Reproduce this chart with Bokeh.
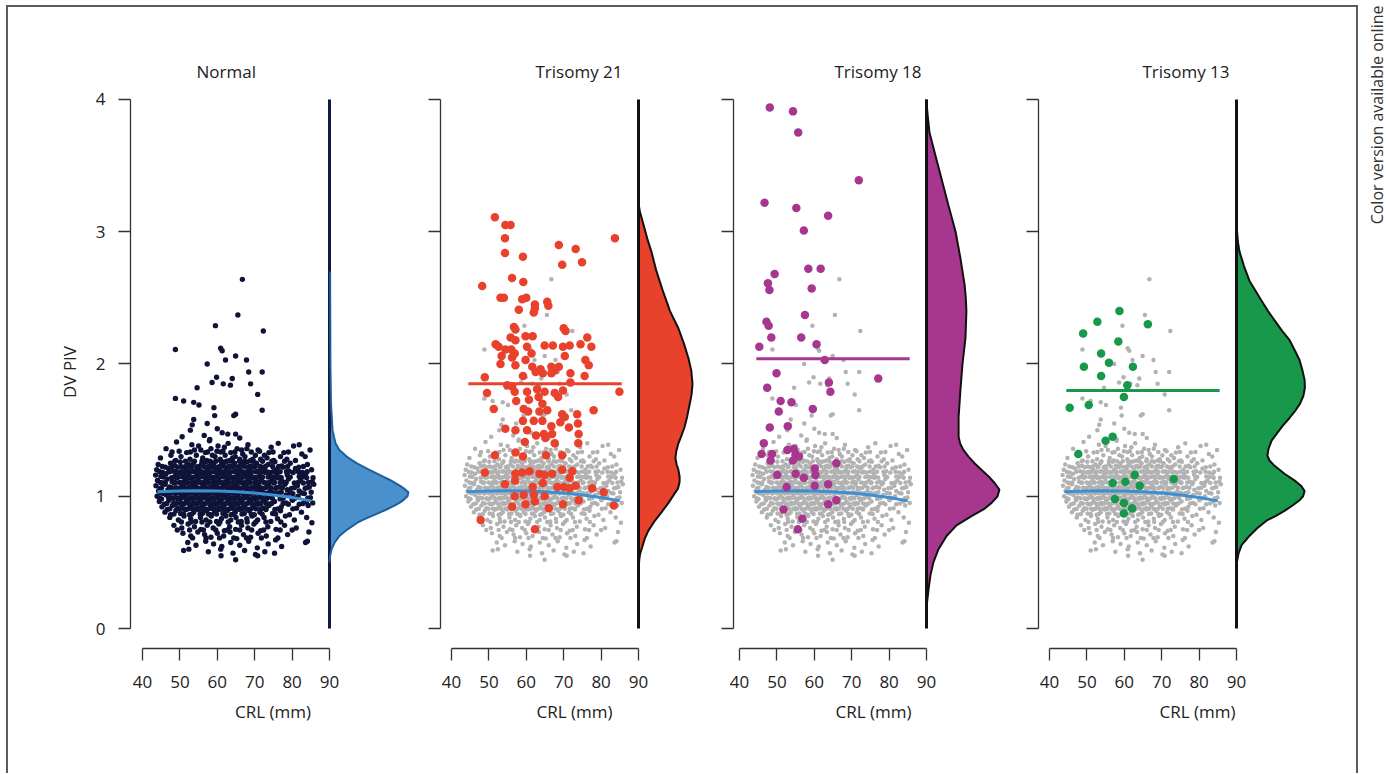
import math
from bokeh.plotting import figure
from bokeh.models import Range1d, FixedTicker, Label, Spacer, Div
from bokeh.layouts import row, column
from bokeh.embed import file_html
from bokeh.resources import INLINE

FONT = "Open Sans"

# ---------------- data ----------------
panel_titles = ["Normal", "Trisomy 21", "Trisomy 18", "Trisomy 13"]
crl_ticks = [40, 50, 60, 70, 80, 90]
dv_ticks = [0, 1, 2, 3, 4]

# normal (euploid) cases: (CRL mm, DV PIV)
normal_top = [
    (66.7, 2.64), (65.5, 2.37), (59.5, 2.29), (72.3, 2.25), (48.8, 2.11), (60.9, 2.12),
    (61.3, 2.10), (62.2, 2.03), (64.9, 2.06), (67.8, 2.03), (57.3, 2.00), (68.4, 1.94),
    (72.0, 1.94), (59.8, 1.90), (58.6, 1.86), (61.6, 1.85), (64.0, 1.89), (63.5, 1.84),
    (68.9, 1.85), (54.6, 1.82), (70.8, 1.77), (48.8, 1.74), (51.0, 1.72), (53.7, 1.71),
    (55.1, 1.69), (72.0, 1.65), (59.1, 1.67), (59.3, 1.61), (64.9, 1.62), (64.4, 1.61),
    (53.7, 1.58), (53.3, 1.54), (57.3, 1.55), (50.6, 1.45), (52.8, 1.50), (60.0, 1.51),
    (61.3, 1.48), (62.8, 1.47), (64.9, 1.47), (56.5, 1.46), (66.0, 1.44), (58.0, 1.43),
]
normal_upper = [
    (46.3, 1.36), (49.1, 1.41), (51.8, 1.33), (53.2, 1.39), (55.6, 1.35), (57.9, 1.42),
    (58.7, 1.31), (60.2, 1.38), (61.5, 1.34), (62.9, 1.40), (64.1, 1.29), (65.3, 1.36),
    (66.8, 1.32), (68.2, 1.39), (69.5, 1.28), (70.9, 1.35), (72.6, 1.31), (74.4, 1.37),
    (76.3, 1.40), (77.8, 1.33), (80.4, 1.38), (81.9, 1.39), (83.5, 1.30), (84.8, 1.35),
    (44.8, 1.29), (47.6, 1.31), (48.9, 1.27), (50.3, 1.30), (52.7, 1.28), (54.4, 1.31),
    (56.1, 1.29), (57.2, 1.27), (59.4, 1.30), (60.8, 1.28), (62.1, 1.31), (63.3, 1.27),
    (64.8, 1.30), (66.0, 1.28), (67.4, 1.30), (68.9, 1.27), (70.2, 1.31), (71.6, 1.28),
    (73.3, 1.29), (75.1, 1.27), (76.9, 1.30), (78.6, 1.28), (80.9, 1.27), (82.6, 1.32),
    (53.9, 1.35), (56.8, 1.33), (59.9, 1.34), (63.6, 1.33), (66.5, 1.35), (71.3, 1.34),
    (49.8, 1.34), (61.9, 1.37), (58.3, 1.36), (67.9, 1.36), (55.0, 1.38), (73.8, 1.33),
]
normal_core = [
    (44.2, 1.24), (46.1, 1.22), (47.5, 1.25), (48.7, 1.23), (50.1, 1.26), (51.0, 1.22),
    (52.3, 1.24), (53.6, 1.25), (54.5, 1.22), (55.8, 1.24), (56.9, 1.26), (57.7, 1.23),
    (58.9, 1.25), (60.1, 1.22), (61.2, 1.24), (62.0, 1.26), (63.4, 1.23), (64.6, 1.25),
    (65.5, 1.22), (66.7, 1.24), (68.0, 1.26), (69.1, 1.23), (70.5, 1.25), (72.0, 1.22),
    (73.6, 1.24), (75.4, 1.26), (77.2, 1.23), (79.5, 1.25), (81.8, 1.22), (84.1, 1.24),
    (43.8, 1.20), (45.4, 1.18), (46.9, 1.21), (48.2, 1.19), (49.4, 1.22), (50.6, 1.18),
    (51.7, 1.20), (52.9, 1.22), (53.8, 1.19), (55.1, 1.21), (56.3, 1.18), (57.3, 1.20),
    (58.4, 1.22), (59.5, 1.19), (60.6, 1.21), (61.7, 1.18), (62.6, 1.20), (63.8, 1.22),
    (65.0, 1.19), (66.1, 1.21), (67.2, 1.18), (68.5, 1.20), (69.7, 1.22), (70.9, 1.19),
    (72.4, 1.21), (73.9, 1.18), (75.8, 1.20), (77.6, 1.22), (79.2, 1.19), (80.9, 1.21),
    (82.7, 1.18), (85.2, 1.20),
    (43.5, 1.16), (44.9, 1.15), (46.3, 1.17), (47.8, 1.14), (48.9, 1.16), (50.0, 1.18),
    (51.2, 1.15), (52.4, 1.17), (53.3, 1.14), (54.6, 1.16), (55.6, 1.18), (56.8, 1.15),
    (57.9, 1.17), (58.8, 1.14), (60.0, 1.16), (61.1, 1.18), (62.3, 1.15), (63.2, 1.17),
    (64.4, 1.14), (65.5, 1.16), (66.6, 1.18), (67.8, 1.15), (68.9, 1.17), (70.2, 1.14),
    (71.4, 1.16), (72.8, 1.18), (74.3, 1.15), (75.9, 1.17), (77.1, 1.14), (78.7, 1.16),
    (80.3, 1.18), (81.9, 1.15), (83.6, 1.17), (85.6, 1.14),
    (44.0, 1.12), (45.3, 1.10), (46.6, 1.13), (47.9, 1.11), (49.2, 1.14), (50.4, 1.10),
    (51.5, 1.12), (52.7, 1.14), (53.7, 1.11), (54.9, 1.13), (56.0, 1.10), (57.1, 1.12),
    (58.2, 1.14), (59.2, 1.11), (60.4, 1.13), (61.5, 1.10), (62.6, 1.12), (63.7, 1.14),
    (64.8, 1.11), (65.9, 1.13), (67.0, 1.10), (68.2, 1.12), (69.4, 1.14), (70.6, 1.11),
    (71.8, 1.13), (73.1, 1.10), (74.6, 1.12), (76.0, 1.14), (77.5, 1.11), (79.0, 1.13),
    (80.6, 1.10), (82.2, 1.12), (83.9, 1.14), (85.4, 1.11), (66.4, 1.14),
    (43.6, 1.08), (44.7, 1.06), (46.0, 1.09), (47.2, 1.07), (48.5, 1.10), (49.6, 1.06),
    (50.8, 1.08), (51.9, 1.10), (53.0, 1.07), (54.1, 1.09), (55.3, 1.06), (56.4, 1.08),
    (57.5, 1.10), (58.6, 1.07), (59.7, 1.09), (60.8, 1.06), (61.9, 1.08), (63.0, 1.10),
    (64.1, 1.07), (65.2, 1.09), (66.3, 1.06), (67.5, 1.08), (68.6, 1.10), (69.8, 1.07),
    (71.0, 1.09), (72.3, 1.06), (73.6, 1.08), (75.1, 1.10), (76.6, 1.07), (78.1, 1.09),
    (79.8, 1.06), (81.4, 1.08), (83.0, 1.10), (84.6, 1.07), (85.8, 1.09), (62.4, 1.07),
    (44.3, 1.04), (45.6, 1.02), (46.8, 1.05), (48.0, 1.03), (49.2, 1.06), (50.3, 1.02),
    (51.4, 1.04), (52.6, 1.06), (53.5, 1.03), (54.7, 1.05), (55.8, 1.02), (56.9, 1.04),
    (58.0, 1.06), (59.1, 1.03), (60.2, 1.05), (61.3, 1.02), (62.5, 1.04), (63.6, 1.06),
    (64.7, 1.03), (65.8, 1.05), (66.9, 1.02), (68.1, 1.04), (69.2, 1.06), (70.4, 1.03),
    (71.6, 1.05), (72.9, 1.02), (74.2, 1.04), (75.6, 1.06), (77.1, 1.03), (78.7, 1.05),
    (80.2, 1.02), (81.9, 1.04), (83.5, 1.06), (85.1, 1.03), (57.4, 1.03), (67.3, 1.06),
    (43.9, 1.00), (45.1, 0.98), (46.4, 1.01), (47.6, 0.99), (48.8, 1.02), (49.9, 0.98),
    (51.1, 1.00), (52.2, 1.02), (53.3, 0.99), (54.4, 1.01), (55.5, 0.98), (56.6, 1.00),
    (57.7, 1.02), (58.8, 0.99), (59.9, 1.01), (61.0, 0.98), (62.1, 1.00), (63.2, 1.02),
    (64.3, 0.99), (65.4, 1.01), (66.5, 0.98), (67.7, 1.00), (68.9, 1.02), (70.1, 0.99),
    (71.3, 1.01), (72.6, 0.98), (74.0, 1.00), (75.4, 1.02), (76.9, 0.99), (78.4, 1.01),
    (80.0, 0.98), (81.6, 1.00), (83.3, 1.02), (84.9, 0.99), (60.6, 1.02),
    (44.5, 0.96), (45.8, 0.94), (47.1, 0.97), (48.4, 0.95), (49.6, 0.98), (50.7, 0.94),
    (51.8, 0.96), (53.0, 0.98), (54.0, 0.95), (55.2, 0.97), (56.3, 0.94), (57.4, 0.96),
    (58.5, 0.98), (59.6, 0.95), (60.7, 0.97), (61.8, 0.94), (62.9, 0.96), (64.0, 0.98),
    (65.1, 0.95), (66.2, 0.97), (67.4, 0.94), (68.6, 0.96), (69.8, 0.98), (71.1, 0.95),
    (72.4, 0.97), (73.8, 0.94), (75.3, 0.96), (76.8, 0.98), (78.4, 0.95), (80.1, 0.97),
    (81.9, 0.94), (83.8, 0.96), (85.5, 0.95),
    (45.2, 0.92), (46.6, 0.90), (48.0, 0.93), (49.3, 0.91), (50.5, 0.94), (51.6, 0.90),
    (52.8, 0.92), (53.9, 0.94), (55.0, 0.91), (56.1, 0.93), (57.2, 0.90), (58.3, 0.92),
    (59.4, 0.94), (60.5, 0.91), (61.6, 0.93), (62.7, 0.90), (63.8, 0.92), (64.9, 0.94),
    (66.0, 0.91), (67.2, 0.93), (68.4, 0.90), (69.6, 0.92), (70.9, 0.94), (72.3, 0.91),
    (73.8, 0.93), (75.4, 0.90), (77.1, 0.92), (79.0, 0.94), (81.2, 0.91), (84.3, 0.93),
    (46.0, 0.88), (47.5, 0.86), (48.9, 0.89), (50.2, 0.87), (51.4, 0.90), (52.6, 0.86),
    (53.7, 0.88), (54.9, 0.90), (56.0, 0.87), (57.1, 0.89), (58.2, 0.86), (59.3, 0.88),
    (60.4, 0.90), (61.5, 0.87), (62.6, 0.89), (63.7, 0.86), (64.8, 0.88), (66.0, 0.90),
    (67.2, 0.87), (68.5, 0.89), (69.9, 0.86), (71.4, 0.88), (73.0, 0.90), (74.8, 0.87),
    (76.9, 0.89), (79.3, 0.86), (82.5, 0.88),
]
normal_lower = [
    (47.3, 0.84), (49.6, 0.82), (51.1, 0.85), (52.9, 0.83), (54.2, 0.81), (55.5, 0.84),
    (57.0, 0.82), (58.4, 0.85), (59.8, 0.81), (61.1, 0.83), (62.3, 0.85), (63.6, 0.82),
    (65.0, 0.84), (66.4, 0.81), (67.9, 0.83), (69.3, 0.85), (70.8, 0.82), (72.5, 0.84),
    (74.3, 0.81), (76.1, 0.83), (78.2, 0.85), (80.6, 0.82), (83.9, 0.84), (85.3, 0.80),
    (48.4, 0.78), (50.5, 0.76), (52.2, 0.79), (53.9, 0.77), (55.6, 0.75), (57.3, 0.78),
    (58.9, 0.76), (60.4, 0.79), (61.9, 0.74), (63.3, 0.77), (64.9, 0.75), (66.5, 0.78),
    (68.2, 0.76), (69.8, 0.79), (71.6, 0.74), (73.5, 0.77), (75.7, 0.75), (78.0, 0.78),
    (81.1, 0.76), (84.5, 0.73),
    (50.8, 0.72), (52.9, 0.70), (54.8, 0.73), (56.6, 0.71), (58.3, 0.69), (60.0, 0.72),
    (61.7, 0.70), (63.4, 0.73), (65.2, 0.68), (67.0, 0.71), (68.9, 0.69), (70.9, 0.72),
    (73.1, 0.70), (75.6, 0.67), (78.8, 0.71), (84.1, 0.66),
    (52.1, 0.65), (54.3, 0.63), (56.9, 0.66), (59.0, 0.64), (61.2, 0.62), (63.6, 0.65),
    (66.0, 0.63), (68.4, 0.66), (70.7, 0.61), (73.6, 0.64), (77.2, 0.62), (83.6, 0.65),
    (51.0, 0.59), (52.4, 0.60), (57.6, 0.58), (60.9, 0.60), (64.2, 0.57), (67.3, 0.59),
    (70.2, 0.56), (72.7, 0.58), (75.3, 0.57), (61.0, 0.55), (64.9, 0.52), (70.8, 0.55),
]
# further normal cases read row by row (DV PIV level -> CRL values)
normal_row_dv = [1.335, 1.265, 1.225, 1.185, 1.145, 1.105, 1.065, 1.025, 0.985,
                 0.945, 0.905, 0.865, 0.805, 0.745, 0.685]
normal_row_crl = [
    [47.9, 52.8, 57.4, 60.9, 64.7, 69.1, 74.9, 79.0],
    [48.6, 51.5, 53.9, 55.9, 58.1, 59.6, 61.0, 62.6, 64.0, 65.9, 67.3, 69.6, 72.1, 74.6, 78.0],
    [45.3, 47.9, 50.2, 51.6, 53.1, 54.9, 56.4, 57.9, 59.2, 60.7, 61.9, 63.0, 64.3, 65.9,
     67.4, 68.6, 70.1, 71.4, 72.9, 74.8, 76.4, 78.8, 83.0],
    [44.6, 47.2, 49.0, 50.4, 51.4, 52.6, 53.6, 54.7, 55.8, 56.9, 57.9, 59.0, 60.1, 61.2,
     62.1, 63.3, 64.5, 65.6, 66.7, 67.9, 69.1, 70.3, 71.7, 73.2, 74.9, 76.8, 78.5, 81.7, 84.0],
    [45.6, 48.4, 49.6, 50.7, 51.8, 52.9, 54.0, 55.1, 56.2, 57.4, 58.4, 59.5, 60.6, 61.7,
     62.8, 63.8, 64.9, 66.0, 67.2, 68.4, 69.6, 70.8, 72.1, 73.6, 75.2, 76.5, 79.5, 82.8],
    [44.8, 46.1, 48.7, 49.9, 51.0, 52.1, 53.2, 54.3, 55.4, 56.5, 57.6, 58.7, 59.8, 60.9,
     62.0, 63.1, 64.2, 65.3, 66.4, 67.6, 68.8, 70.0, 71.2, 72.5, 73.9, 75.3, 76.8, 78.4,
     81.6, 84.4],
    [45.1, 47.8, 49.0, 50.2, 51.3, 52.4, 53.5, 54.6, 55.8, 56.9, 58.0, 59.1, 60.2, 61.3,
     63.5, 64.6, 65.7, 66.8, 68.0, 69.2, 70.4, 71.6, 72.9, 74.3, 75.8, 77.4, 80.6, 84.0],
    [45.0, 47.4, 48.6, 49.8, 50.9, 52.0, 53.1, 54.1, 55.2, 56.3, 57.4, 58.5, 59.6, 60.7,
     61.8, 62.9, 64.1, 65.2, 66.3, 67.5, 68.6, 69.8, 71.0, 72.3, 73.6, 75.0, 76.4, 79.4, 82.7],
    [44.6, 47.0, 48.2, 49.3, 50.4, 51.6, 52.7, 53.8, 54.9, 56.0, 57.1, 58.2, 59.3, 60.4,
     61.5, 62.6, 63.7, 64.8, 65.9, 67.1, 68.3, 69.5, 70.7, 72.0, 73.3, 74.7, 77.6, 80.8, 84.2],
    [46.5, 48.9, 50.1, 51.2, 52.4, 53.5, 54.6, 55.7, 56.8, 57.9, 59.0, 60.1, 61.2, 62.3,
     63.4, 64.5, 65.6, 66.8, 68.0, 69.2, 70.4, 71.7, 73.1, 74.5, 77.6, 82.9],
    [47.3, 49.9, 51.1, 52.2, 53.3, 54.4, 55.5, 56.6, 57.7, 58.8, 59.9, 61.0, 62.1, 63.2,
     64.3, 65.4, 66.6, 67.8, 69.0, 70.3, 71.6, 73.0, 76.2, 80.2],
    [48.4, 51.0, 53.2, 55.4, 57.6, 59.8, 62.0, 64.2, 66.6, 69.1, 72.0, 75.6],
    [50.4, 53.0, 55.9, 58.0, 60.7, 62.9, 65.6, 68.0, 70.3, 73.0, 77.0],
    [49.3, 52.6, 56.3, 59.6, 62.7, 66.0, 69.2, 72.4, 76.8, 80.0],
    [53.4, 57.0, 60.6, 64.4, 67.8, 71.8, 76.2],
]

# reference (normal) fitted curve
normal_fit_crl = [44, 50, 55, 60, 65, 70, 75, 80, 85]
normal_fit_dv = [1.035, 1.04, 1.042, 1.04, 1.035, 1.025, 1.01, 0.99, 0.965]

# trisomy 21
t21_crl = [51.6, 54.4, 55.8, 54.3, 83.7, 68.7, 73.2, 54.3, 59.1, 74.9, 69.6, 56.2,
           59.2, 48.2, 53.1, 54.0, 58.9, 60.0, 62.3, 62.3, 65.6, 65.9, 58.0, 62.0,
           56.7, 57.1, 70.0, 70.5, 55.8, 57.1, 59.8, 61.7, 76.3, 51.8, 52.6, 54.4,
           56.0, 56.9, 60.2, 64.9, 67.1, 69.8, 71.6, 74.5, 77.4, 53.4, 56.2, 61.4,
           70.3, 53.1, 57.1, 59.8, 61.6, 63.8, 66.7, 67.6, 68.7, 75.8, 76.7, 48.9,
           59.1, 62.5, 64.4, 66.7, 71.8, 75.6, 54.9, 56.2, 56.9, 60.2, 62.9, 64.9,
           67.6, 69.8, 71.8, 49.5, 84.9, 57.3, 60.7, 63.3, 64.3, 68.5, 51.3, 59.3,
           60.5, 63.5, 65.6, 69.6, 70.3, 73.6, 78.0, 59.1, 62.0, 64.3, 66.7, 69.1,
           71.4, 73.8, 54.4, 57.1, 60.2, 62.6, 64.7, 65.1, 66.9, 74.0, 59.6, 67.6,
           73.9, 51.6, 57.1, 59.1, 65.3, 69.6, 48.9, 57.1, 58.9, 60.9, 63.5, 64.9,
           66.9, 69.6, 71.6, 72.3, 54.3, 57.0, 61.7, 64.4, 68.3, 70.0, 71.6, 73.2,
           77.6, 80.7, 56.9, 59.3, 62.0, 64.9, 74.0, 83.4, 56.2, 59.8, 62.3, 66.0,
           69.8, 47.8, 62.3]
t21_dv = [3.11, 3.05, 3.05, 2.95, 2.95, 2.90, 2.87, 2.84, 2.81, 2.77, 2.75, 2.65,
          2.62, 2.59, 2.50, 2.50, 2.49, 2.50, 2.45, 2.42, 2.47, 2.44, 2.41, 2.39,
          2.28, 2.26, 2.27, 2.25, 2.20, 2.18, 2.21, 2.21, 2.20, 2.15, 2.13, 2.11,
          2.11, 2.08, 2.13, 2.14, 2.14, 2.13, 2.14, 2.15, 2.13, 2.06, 2.05, 2.08,
          2.06, 2.00, 1.99, 2.03, 1.98, 1.96, 1.98, 1.95, 1.98, 2.03, 1.99, 1.90,
          1.91, 1.94, 1.93, 1.93, 1.93, 1.91, 1.84, 1.83, 1.79, 1.79, 1.81, 1.79,
          1.78, 1.80, 1.86, 1.78, 1.79, 1.72, 1.73, 1.75, 1.70, 1.75, 1.66, 1.66,
          1.64, 1.64, 1.65, 1.62, 1.60, 1.62, 1.65, 1.57, 1.57, 1.57, 1.53, 1.56,
          1.52, 1.55, 1.51, 1.50, 1.50, 1.46, 1.47, 1.44, 1.47, 1.47, 1.41, 1.40,
          1.40, 1.31, 1.33, 1.30, 1.31, 1.31, 1.18, 1.17, 1.18, 1.19, 1.17, 1.16,
          1.17, 1.20, 1.14, 1.19, 1.09, 1.12, 1.07, 1.10, 1.07, 1.07, 1.06, 1.08,
          1.06, 1.03, 1.00, 1.01, 1.01, 1.00, 0.97, 0.93, 0.92, 0.94, 0.96, 0.91,
          0.94, 0.82, 0.75]

# trisomy 18
t18_crl = [48.1, 54.3, 55.7, 71.9, 46.7, 55.2, 63.7, 57.2, 58.4, 61.7, 49.4, 47.6,
           48.0, 59.3, 57.5, 47.2, 47.8, 48.5, 56.5, 60.6, 45.3, 62.8, 49.9, 63.9,
           64.3, 77.1, 47.4, 51.0, 53.9, 50.5, 59.6, 52.9, 48.1, 46.5, 45.9, 48.3,
           48.7, 52.8, 54.5, 55.0, 55.9, 54.3, 65.9, 50.1, 55.0, 57.2, 60.1, 60.3,
           52.6, 60.1, 63.7, 63.7, 65.9, 51.8, 56.8, 55.6]
t18_dv = [3.94, 3.91, 3.75, 3.39, 3.22, 3.18, 3.12, 3.01, 2.72, 2.72, 2.68, 2.61,
          2.56, 2.57, 2.37, 2.32, 2.29, 2.20, 2.20, 2.15, 2.13, 2.03, 1.93, 1.86,
          1.79, 1.89, 1.82, 1.72, 1.71, 1.64, 1.66, 1.53, 1.52, 1.40, 1.32, 1.27,
          1.32, 1.35, 1.36, 1.32, 1.30, 1.27, 1.25, 1.16, 1.17, 1.14, 1.21, 1.16,
          1.07, 1.08, 1.09, 0.94, 0.97, 0.90, 0.83, 0.75]

# trisomy 13
t13_crl = [58.7, 52.8, 66.3, 49.0, 58.4, 53.8, 55.9, 49.2, 62.3, 53.8, 60.8, 59.9,
           45.4, 50.5, 55.0, 56.9, 47.7, 62.8, 73.2, 56.9, 60.3, 64.1, 57.5, 59.9,
           62.1, 59.9]
t13_dv = [2.40, 2.32, 2.30, 2.23, 2.17, 2.08, 2.01, 1.98, 1.98, 1.91, 1.84, 1.75,
          1.67, 1.69, 1.42, 1.45, 1.32, 1.16, 1.13, 1.10, 1.11, 1.08, 0.98, 0.95,
          0.91, 0.87]

# mean DV PIV of each trisomy group (horizontal lines)
trisomy_mean_dv = [1.85, 2.04, 1.80]
trisomy_mean_crl = [44.5, 85.5]

# marginal density curves (DV PIV level -> density)
dens_normal_dv = [2.70, 2.00, 1.70, 1.50, 1.40, 1.35, 1.30, 1.25, 1.20, 1.15, 1.125,
                  1.10, 1.075, 1.05, 1.03, 1.00, 0.975, 0.95, 0.925, 0.90, 0.875, 0.85,
                  0.825, 0.80, 0.75, 0.70, 0.65, 0.60, 0.55, 0.50]
dens_normal = [0.02, 0.03, 0.05, 0.10, 0.20, 0.33, 0.57, 0.90, 1.33, 1.77, 2.00,
               2.20, 2.38, 2.53, 2.63, 2.60, 2.48, 2.33, 2.13, 1.90, 1.65, 1.40,
               1.15, 0.93, 0.60, 0.33, 0.17, 0.07, 0.02, 0.0]
dens_t21_dv = [3.21, 3.15, 3.05, 2.95, 2.85, 2.70, 2.56, 2.40, 2.27, 2.15, 2.04, 1.95,
               1.85, 1.77, 1.69, 1.60, 1.52, 1.45, 1.40, 1.34, 1.29, 1.24, 1.20, 1.15,
               1.11, 1.06, 1.02, 0.95, 0.88, 0.81, 0.74, 0.68, 0.62, 0.57, 0.53, 0.45]
dens_t21 = [0.0, 0.05, 0.17, 0.29, 0.43, 0.60, 0.80, 1.05, 1.33, 1.52, 1.67, 1.76,
            1.80, 1.77, 1.70, 1.62, 1.53, 1.42, 1.33, 1.26, 1.23, 1.27, 1.33, 1.37,
            1.37, 1.32, 1.20, 1.00, 0.77, 0.53, 0.33, 0.21, 0.13, 0.06, 0.03, 0.0]
dens_t18_dv = [4.0, 3.9, 3.75, 3.6, 3.4, 3.2, 3.0, 2.8, 2.6, 2.5, 2.4, 2.2, 2.0, 1.8,
               1.6, 1.45, 1.40, 1.35, 1.30, 1.25, 1.20, 1.15, 1.10, 1.05, 1.0, 0.95,
               0.90, 0.85, 0.78, 0.7, 0.6, 0.5, 0.4, 0.3, 0.2, 0.15]
dens_t18 = [0.0, 0.03, 0.10, 0.27, 0.50, 0.73, 0.97, 1.13, 1.27, 1.31, 1.33, 1.30, 1.20,
            1.13, 1.07, 1.07, 1.12, 1.23, 1.40, 1.60, 1.83, 2.07, 2.27, 2.43, 2.37, 2.17,
            1.90, 1.50, 1.00, 0.67, 0.40, 0.23, 0.13, 0.07, 0.02, 0.0]
dens_t13_dv = [3.0, 2.92, 2.85, 2.74, 2.63, 2.48, 2.40, 2.33, 2.25, 2.18, 2.10, 2.03,
               1.95, 1.88, 1.82, 1.76, 1.70, 1.65, 1.59, 1.53, 1.47, 1.42, 1.36, 1.31,
               1.27, 1.23, 1.17, 1.12, 1.08, 1.04, 1.00, 0.97, 0.93, 0.89, 0.85, 0.82,
               0.76, 0.70, 0.66, 0.63, 0.57, 0.51, 0.45]
dens_t13 = [0.02, 0.05, 0.10, 0.25, 0.43, 0.83, 1.05, 1.27, 1.52, 1.77, 1.95, 2.10,
            2.20, 2.27, 2.28, 2.23, 2.12, 1.97, 1.76, 1.53, 1.33, 1.17, 1.07, 1.03,
            1.10, 1.27, 1.60, 1.93, 2.15, 2.27, 2.22, 2.10, 1.87, 1.60, 1.30, 1.03,
            0.70, 0.43, 0.28, 0.17, 0.07, 0.02, 0.0]

# ---------------- build ----------------
normal_all = normal_top + normal_upper + normal_core + normal_lower
normal_crl = [pt[0] for pt in normal_all]
normal_dv = [pt[1] for pt in normal_all]
for lev, xs in zip(normal_row_dv, normal_row_crl):
    normal_crl += xs
    normal_dv += [lev] * len(xs)

NAVY = "#0f1338"
GREY = "#b2b2b2"
FITBLUE = "#3b8fd2"
COLORS = ["#e8412c", "#a7368f", "#17984a"]
TXT = "#222222"
RULE = "#5c5c5c"

PX_PER_MM = 187 / 50.0
PX_PER_DENS = 30.0
PANEL_H = 766

panel_width = [407, 293, 305, 343]
panel_border = [122, 25, 25, 25]
axis_gap_px = [12, 11, 6, 11]
title_offset = [66, 95, 101, 104]


def make_panel(i, group_crl, group_dv, dens_dv, dens_val):
    w = panel_width[i]
    bl = panel_border[i]
    x_start = crl_ticks[0] - axis_gap_px[i] / PX_PER_MM
    x_end = x_start + (w - bl) / PX_PER_MM
    base = crl_ticks[-1]
    p = figure(width=w, height=PANEL_H, x_range=Range1d(x_start, x_end),
               y_range=Range1d(-0.151, 4.03), output_backend="svg",
               toolbar_location=None, title=panel_titles[i],
               min_border_left=bl, min_border_right=0, min_border_top=88,
               min_border_bottom=125)
    p.outline_line_color = None
    p.grid.visible = False
    p.extra_x_ranges = {"dens": Range1d(-(base - x_start) * PX_PER_MM / PX_PER_DENS,
                                        (x_end - base) * PX_PER_MM / PX_PER_DENS)}

    p.title.align = "left"
    p.title.offset = title_offset[i]
    p.title.text_font = FONT
    p.title.text_font_size = "17px"
    p.title.text_font_style = "normal"
    p.title.text_color = TXT
    p.title.standoff = 25

    xa = p.xaxis[0]
    xa.bounds = (crl_ticks[0], crl_ticks[-1])
    xa.ticker = FixedTicker(ticks=crl_ticks)
    xa.major_tick_out = 12
    xa.major_tick_in = 0
    xa.minor_tick_line_color = None
    xa.axis_line_color = "#333333"
    xa.major_tick_line_color = "#333333"
    xa.axis_line_width = 1.3
    xa.major_tick_line_width = 1.3
    xa.major_label_text_font = FONT
    xa.major_label_text_font_size = "17px"
    xa.major_label_text_color = TXT
    xa.major_label_standoff = 15
    xa.axis_label = "CRL (mm)"
    xa.axis_label_text_font = FONT
    xa.axis_label_text_font_size = "17px"
    xa.axis_label_text_font_style = "normal"
    xa.axis_label_text_color = TXT
    xa.axis_label_standoff = 9

    ya = p.yaxis[0]
    ya.bounds = (dv_ticks[0], dv_ticks[-1])
    ya.ticker = FixedTicker(ticks=dv_ticks)
    ya.major_tick_out = 12
    ya.major_tick_in = 0
    ya.minor_tick_line_color = None
    ya.axis_line_color = "#333333"
    ya.major_tick_line_color = "#333333"
    ya.axis_line_width = 1.3
    ya.major_tick_line_width = 1.3
    if i == 0:
        ya.major_label_text_font = FONT
        ya.major_label_text_font_size = "17px"
        ya.major_label_text_color = TXT
        ya.major_label_standoff = 13
        ya.axis_label = "DV PIV"
        ya.axis_label_text_font = FONT
        ya.axis_label_text_font_size = "17px"
        ya.axis_label_text_font_style = "normal"
        ya.axis_label_text_color = TXT
        ya.axis_label_standoff = 12
    else:
        ya.major_label_text_font_size = "9px"
        ya.major_label_text_color = None
        ya.major_label_standoff = 0

    # marginal density
    if i == 0:
        fill, edge, basec = "#4a90cc", "#1d5f9e", "#0f1a40"
    else:
        fill, edge, basec = COLORS[i - 1], "#111111", "#111111"
    p.harea(x1=[0.0] * len(dens_val), x2=dens_val, y=dens_dv,
            fill_color=fill, x_range_name="dens")
    p.line(x=[0.0, 0.0], y=[dv_ticks[0], dv_ticks[-1]], line_color=basec,
           line_width=3, x_range_name="dens")
    p.line(x=dens_val, y=dens_dv, line_color=edge, line_width=2,
           x_range_name="dens")

    # scatter
    if i == 0:
        p.scatter(normal_crl, normal_dv, size=5.4, fill_color=NAVY, line_color=None)
        p.line(normal_fit_crl, normal_fit_dv, line_color=FITBLUE, line_width=3)
    else:
        col = COLORS[i - 1]
        p.scatter(normal_crl, normal_dv, size=4.5, fill_color=GREY, line_color=None)
        p.line(normal_fit_crl, normal_fit_dv, line_color=FITBLUE, line_width=3)
        p.scatter(group_crl, group_dv, size=8.5, fill_color=col, line_color=None)
        m = trisomy_mean_dv[i - 1]
        p.line(trisomy_mean_crl, [m, m], line_color=col, line_width=3)
    return p


def rule(w, h):
    return Div(text="", width=w, height=h, margin=0,
               styles={"background-color": RULE})


p1 = make_panel(0, None, None, dens_normal_dv, dens_normal)
p2 = make_panel(1, t21_crl, t21_dv, dens_t21_dv, dens_t21)
p3 = make_panel(2, t18_crl, t18_dv, dens_t18_dv, dens_t18)
p4 = make_panel(3, t13_crl, t13_dv, dens_t13_dv, dens_t13)

side = figure(width=28, height=774, toolbar_location=None, min_border=0,
              x_axis_location=None, y_axis_location=None, output_backend="svg",
              x_range=Range1d(0, 28), y_range=Range1d(0, 774))
side.outline_line_color = None
side.grid.visible = False
side.add_layout(Label(x=18, y=769, text="Color version available online",
                      angle=math.pi / 2, text_align="right", text_baseline="middle",
                      text_font=FONT, text_font_size="16px", text_color="#333333"))

inner = row(rule(2, PANEL_H), p1, p2, p3, p4, rule(2, PANEL_H))
boxed = column(Spacer(width=1352, height=5), rule(1352, 2), inner)
layout = row(Spacer(width=6, height=774), boxed, side)

open("out.html", "w").write(file_html(layout, INLINE))
